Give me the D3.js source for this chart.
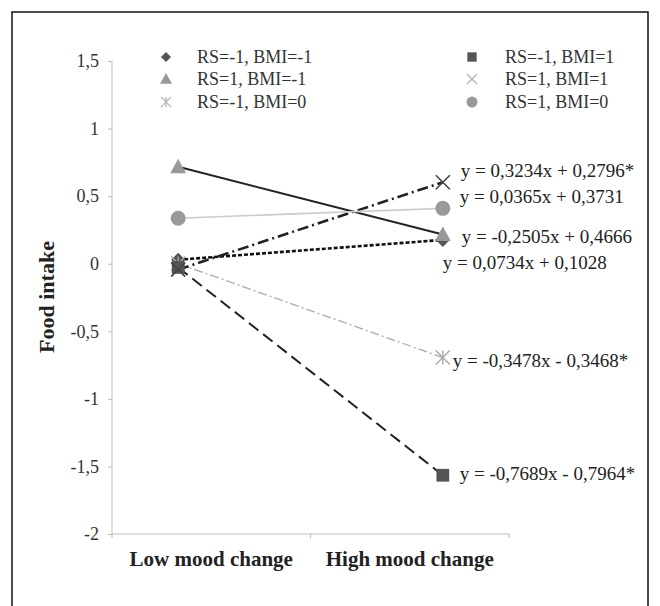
<!DOCTYPE html>
<html>
<head>
<meta charset="UTF-8">
<title>Food intake</title>
<script src="https://d3js.org/d3.v7.min.js"></script>
<style>
  body { margin: 0; background: #fff; }
</style>
</head>
<body>
<div id="chart"></div>
<script>
// data: x coded -1 (low mood change) and 1 (high mood change)
var categories = ["Low mood change", "High mood change"];
var xCodes = [-1, 1];
var seriesNames = ["RS=-1, BMI=-1", "RS=1, BMI=-1", "RS=-1, BMI=0", "RS=-1, BMI=1", "RS=1, BMI=1", "RS=1, BMI=0"];
var lowValues  = [0.0294, 0.7171, 0.0010, -0.0275, -0.0438, 0.3366];
var highValues = [0.1762, 0.2161, -0.6946, -1.5653, 0.6030, 0.4096];
var equations = [
  "y = 0,0734x + 0,1028",
  "y = -0,2505x + 0,4666",
  "y = -0,3478x - 0,3468*",
  "y = -0,7689x - 0,7964*",
  "y = 0,3234x + 0,2796*",
  "y = 0,0365x + 0,3731"
];
var yTicks = [-2, -1.5, -1, -0.5, 0, 0.5, 1, 1.5];

// styles per series (same order)
var styles = [
  {shape: "diamond",  color: "#555", line: "#111", width: 2.6, dash: "4,2"},
  {shape: "triangle", color: "#999", line: "#222", width: 2,   dash: null},
  {shape: "asterisk", color: "#aaa", line: "#aaa", width: 1.3, dash: "9,3,2,3"},
  {shape: "square",   color: "#555", line: "#222", width: 2,   dash: "12,6"},
  {shape: "cross",    color: "#444", line: "#222", width: 2.6, dash: "11,4,2,4"},
  {shape: "circle",   color: "#999", line: "#ccc", width: 1.6, dash: null}
];
var legendColor = ["#555", "#999", "#bbb", "#555", "#bbb", "#999"];
// equation label offsets from the high point
var eqOffset = [[0, 29], [19, 8], [10, 9], [17, 4.5], [18, -5.5], [17, -5.5]];

var FONT = "'Liberation Serif', 'Times New Roman', serif";
var W = 660, H = 606;
var svg = d3.select("#chart").append("svg").attr("width", W).attr("height", H)
  .style("font-family", FONT);

// outer frame
svg.append("rect").attr("x", 12).attr("y", 12).attr("width", 636).attr("height", 620)
  .attr("fill", "none").attr("stroke", "#111").attr("stroke-width", 1.5);

var x0 = 112, x1 = 509, yTop = 61, yBot = 534;
var y = d3.scaleLinear().domain([-2, 1.5]).range([yBot, yTop]);
var x = d3.scaleLinear().domain([-1.5, 1.5]).range([x0, x1]);
var xb = d3.scaleBand().domain(categories).range([x0, x1]);

function fmt(v) { return String(v).replace(".", ","); }

// y axis
var yAxis = svg.append("g").attr("transform", "translate(" + x0 + ",0)")
  .call(d3.axisLeft(y).tickValues(yTicks).tickFormat(fmt).tickSize(4).tickPadding(9));
yAxis.attr("font-family", null);
yAxis.select(".domain").attr("stroke", "#bbb").attr("d", "M0," + yTop + "V" + yBot);
yAxis.selectAll(".tick line").attr("stroke", "#bbb");
yAxis.selectAll(".tick text").style("font-family", FONT).style("font-size", "18px").attr("fill", "#333");

// x axis
var xAxis = svg.append("g").attr("transform", "translate(0," + yBot + ")")
  .call(d3.axisBottom(xb).tickSize(0).tickPadding(17));
xAxis.attr("font-family", null);
xAxis.select(".domain").attr("stroke", "#bbb").attr("d", "M" + x0 + ",0H" + x1);
xAxis.selectAll(".tick text").style("font-family", FONT).style("font-size", "21px").style("font-weight", "bold").attr("fill", "#222");
[x0, (x0 + x1) / 2, x1].forEach(function(t) {
  xAxis.append("line").attr("x1", t).attr("x2", t).attr("y1", 0).attr("y2", 4).attr("stroke", "#bbb");
});

// y title
svg.append("text").attr("transform", "translate(54,297) rotate(-90)")
  .attr("text-anchor", "middle").style("font-family", FONT).style("font-size", "22px").style("font-weight", "bold")
  .attr("fill", "#222").text("Food intake");

function marker(g, shape, color, s) {
  if (shape == "diamond") {
    g.append("path").attr("d", "M0," + (-s) + "L" + s + ",0L0," + s + "L" + (-s) + ",0Z").attr("fill", color);
  } else if (shape == "triangle") {
    g.append("path").attr("d", "M0," + (-s) + "L" + s + "," + (s * 0.8) + "L" + (-s) + "," + (s * 0.8) + "Z").attr("fill", color);
  } else if (shape == "square") {
    g.append("rect").attr("x", -s * 0.85).attr("y", -s * 0.85).attr("width", s * 1.7).attr("height", s * 1.7).attr("fill", color);
  } else if (shape == "circle") {
    g.append("circle").attr("r", s).attr("fill", color);
  } else if (shape == "cross") {
    g.append("path").attr("d", "M" + (-s) + "," + (-s) + "L" + s + "," + s + "M" + (-s) + "," + s + "L" + s + "," + (-s))
      .attr("stroke", color).attr("stroke-width", 1.6).attr("fill", "none");
  } else if (shape == "asterisk") {
    g.append("path").attr("d", "M" + (-s) + "," + (-s) + "L" + s + "," + s + "M" + (-s) + "," + s + "L" + s + "," + (-s) + "M0," + (-s) + "V" + s)
      .attr("stroke", color).attr("stroke-width", 1.4).attr("fill", "none");
  }
}

// lines
var lineGen = d3.line().x(function(d) { return x(d[0]); }).y(function(d) { return y(d[1]); });
seriesNames.forEach(function(name, i) {
  var pts = [[xCodes[0], lowValues[i]], [xCodes[1], highValues[i]]];
  svg.append("path").datum(pts).attr("d", lineGen)
    .attr("fill", "none").attr("stroke", styles[i].line).attr("stroke-width", styles[i].width)
    .attr("stroke-dasharray", styles[i].dash);
});

// markers
var markerSize = {diamond: 7, triangle: 8, asterisk: 7, square: 7.5, cross: 7, circle: 7.5};
seriesNames.forEach(function(name, i) {
  [[xCodes[0], lowValues[i]], [xCodes[1], highValues[i]]].forEach(function(p) {
    var g = svg.append("g").attr("transform", "translate(" + x(p[0]) + "," + y(p[1]) + ")");
    marker(g, styles[i].shape, styles[i].color, markerSize[styles[i].shape]);
  });
});

// equation labels
equations.forEach(function(eq, i) {
  svg.append("text").attr("x", x(xCodes[1]) + eqOffset[i][0]).attr("y", y(highValues[i]) + eqOffset[i][1])
    .style("font-family", FONT).style("font-size", "19px").attr("fill", "#222").text(eq);
});

// legend
var legendX = [[166, 197], [472, 505]];
var legendY = [57, 79, 102];
var legendSize = {diamond: 5, triangle: 6, asterisk: 5, square: 5.5, cross: 5, circle: 5.5};
seriesNames.forEach(function(name, i) {
  var col = Math.floor(i / 3), row = i % 3;
  var g = svg.append("g").attr("transform", "translate(" + legendX[col][0] + "," + legendY[row] + ")");
  marker(g, styles[i].shape, legendColor[i], legendSize[styles[i].shape]);
  svg.append("text").attr("x", legendX[col][1]).attr("y", legendY[row] + 6)
    .style("font-family", FONT).style("font-size", "18px").attr("fill", "#333").text(name);
});
</script>
</body>
</html>
